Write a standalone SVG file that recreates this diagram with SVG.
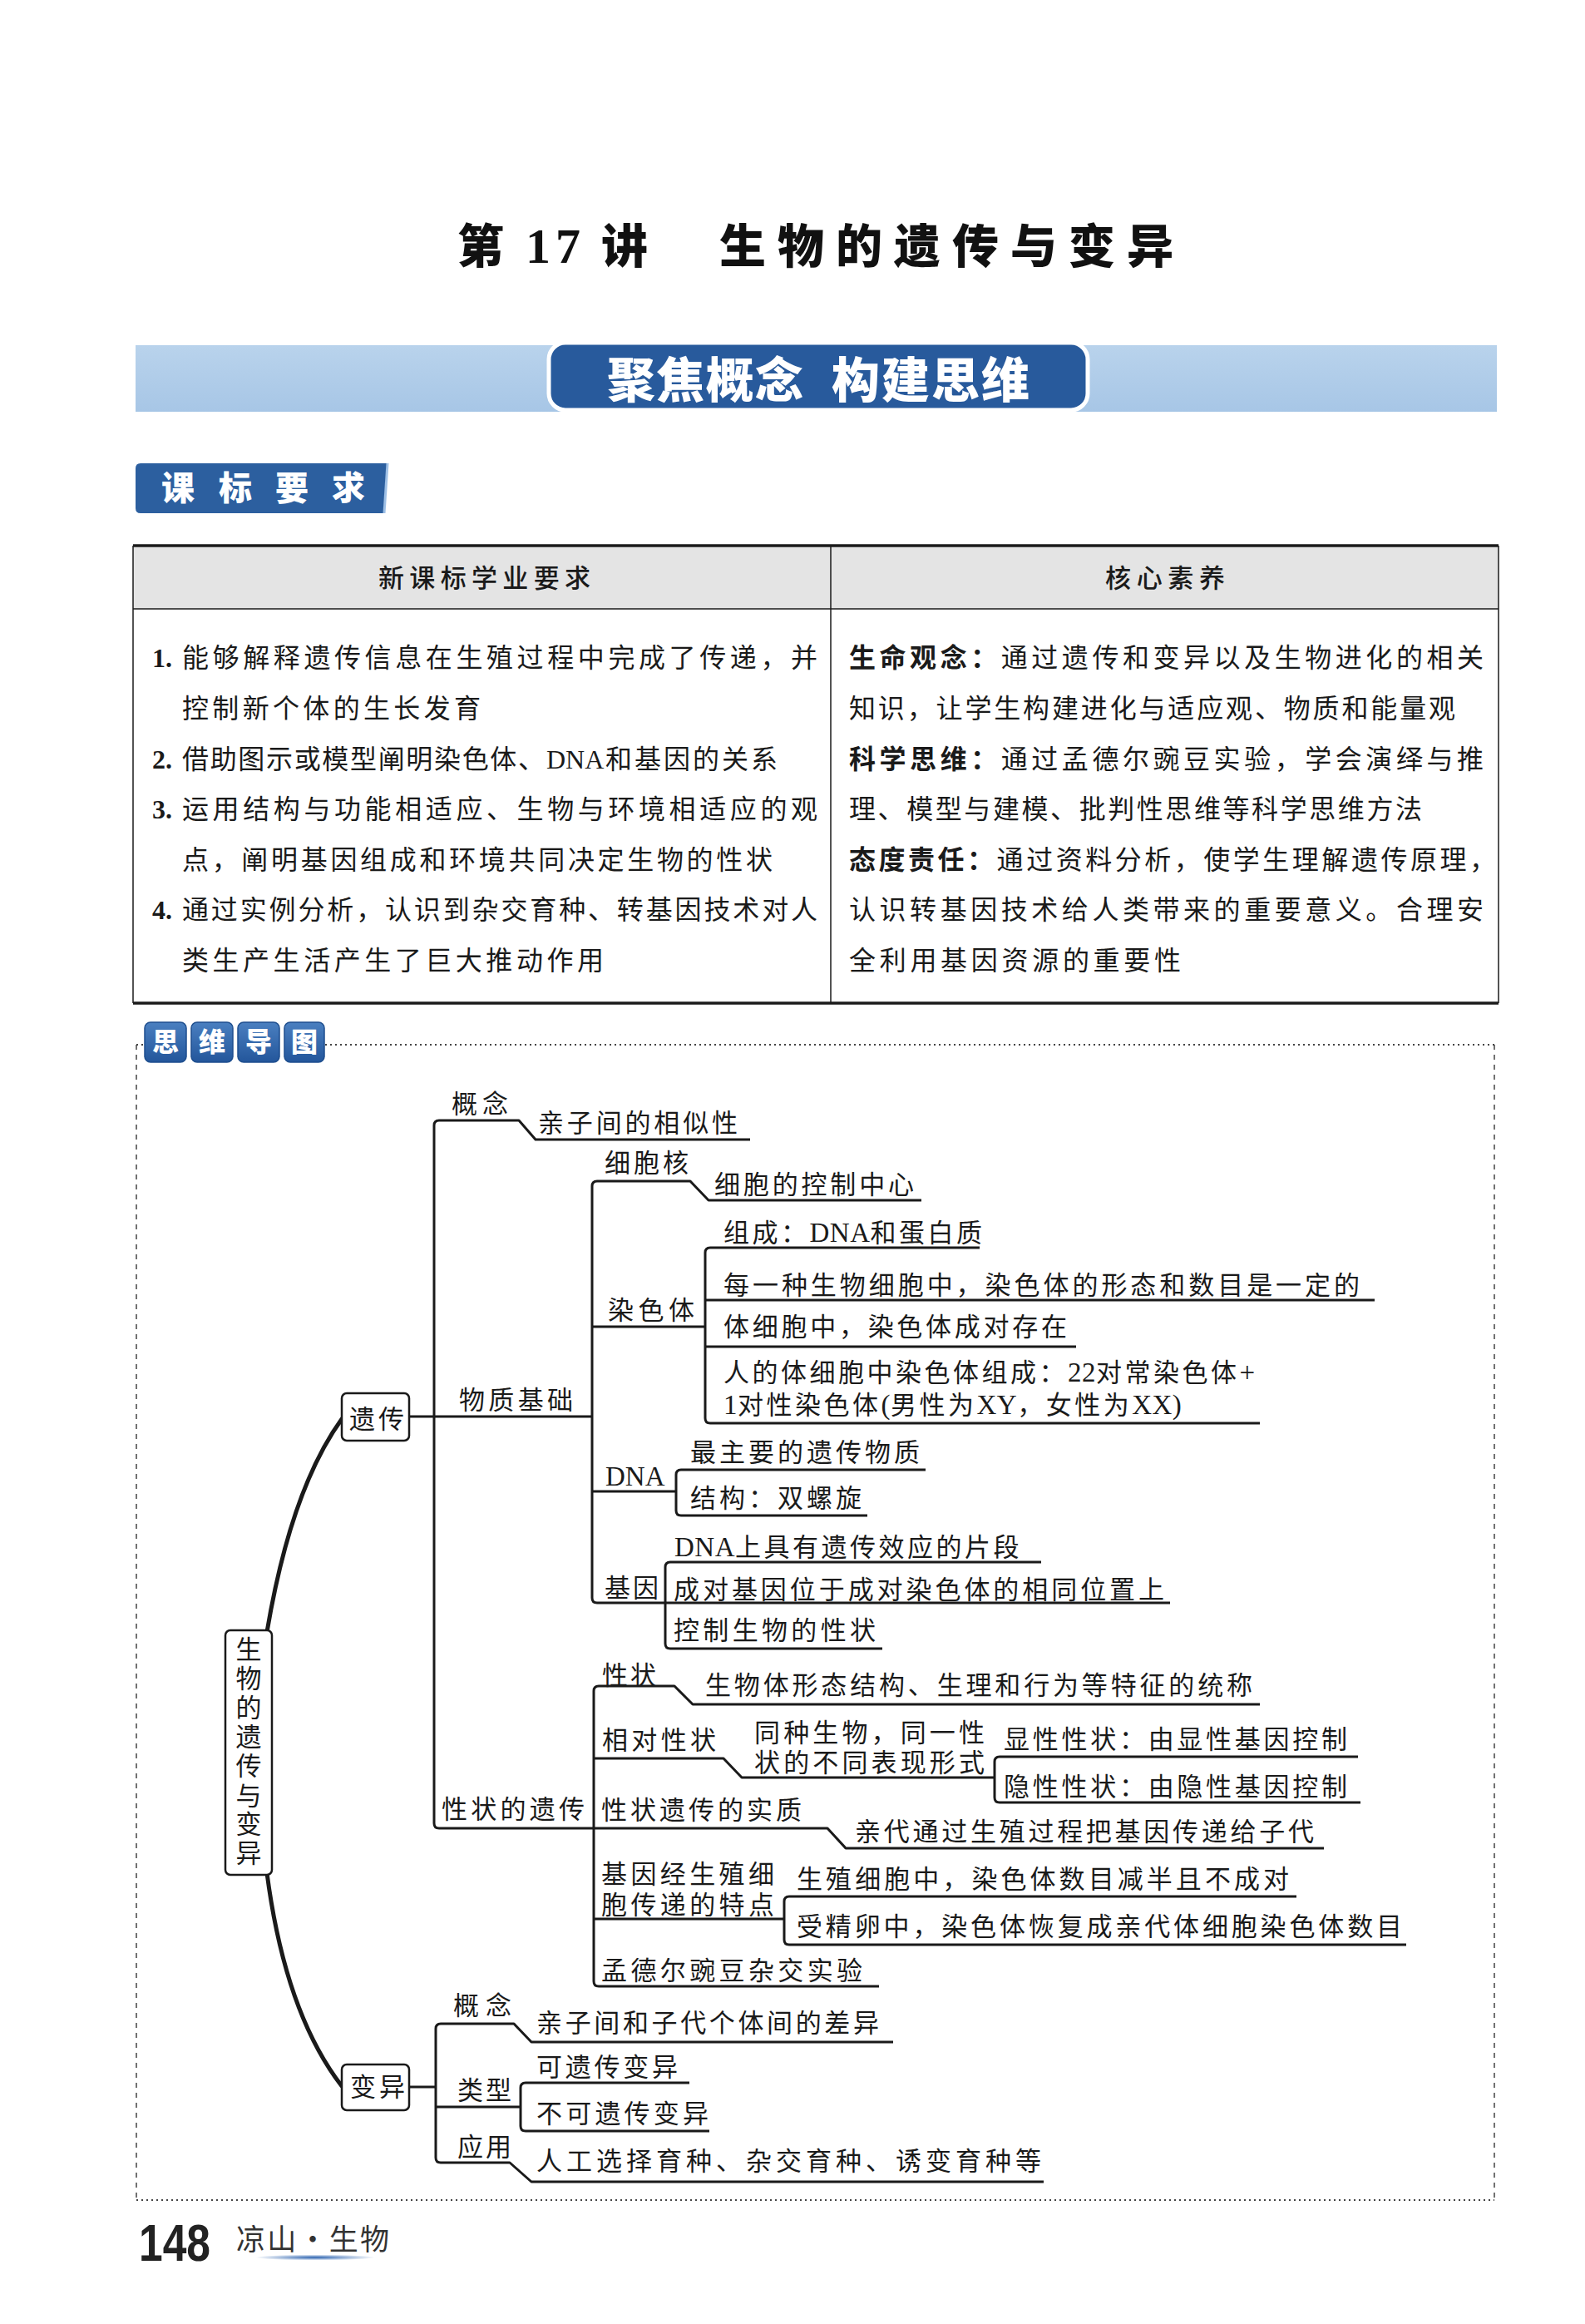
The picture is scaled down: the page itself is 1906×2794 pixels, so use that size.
<svg xmlns="http://www.w3.org/2000/svg" width="1906" height="2794" viewBox="0 0 1906 2794">
<defs>
<style>
.t{font-family:"Liberation Serif","Noto Sans CJK SC",serif;font-size:31px;fill:#1a1a1a}
.ls{letter-spacing:3.5px}
.lat{font-family:"Liberation Serif",serif;font-size:33px;letter-spacing:0.5px}
.tb{font-family:"Liberation Serif","Noto Sans CJK SC",serif;font-size:32px;fill:#1a1a1a}
.bd{font-family:"Noto Sans CJK SC",sans-serif;font-weight:900}
.hd{font-family:"Noto Sans CJK SC",sans-serif;font-size:31px;font-weight:500;fill:#1a1a1a}
.ln{fill:none;stroke:#1a1a1a;stroke-width:3;stroke-linejoin:round;stroke-linecap:butt}
.cv{fill:none;stroke:#1a1a1a;stroke-width:5;stroke-linecap:round}
.box{fill:#fff;stroke:#1a1a1a;stroke-width:2.5}
.wt{font-family:"Noto Sans CJK SC",sans-serif;font-weight:900;fill:#fff}
</style>
<linearGradient id="band" x1="0" y1="0" x2="0" y2="1">
<stop offset="0" stop-color="#b9d3ec"/><stop offset="1" stop-color="#a7c6e6"/>
</linearGradient>
<linearGradient id="badge" x1="0" y1="0" x2="0" y2="1">
<stop offset="0" stop-color="#4a7fc0"/><stop offset="1" stop-color="#23569b"/>
</linearGradient>
<radialGradient id="swoosh" cx="0.5" cy="0.5" r="0.5">
<stop offset="0" stop-color="#2c63b0"/><stop offset="1" stop-color="#2c63b0" stop-opacity="0"/>
</radialGradient>
</defs>
<rect width="1906" height="2794" fill="#fff"/>

<g id="title" fill="#111">
<text class="bd" x="550" y="316" font-size="56">第</text>
<text x="632" y="316" font-family="Liberation Serif" font-weight="700" font-size="60" letter-spacing="6">17</text>
<text class="bd" x="723" y="316" font-size="56">讲</text>
<text class="bd" x="865" y="316" font-size="56" letter-spacing="14">生物的遗传与变异</text>
</g>

<g id="banner">
<rect x="163" y="415" width="1637" height="80" fill="url(#band)"/>
<rect x="660" y="412" width="648" height="81" rx="20" fill="#285a9c" stroke="#fff" stroke-width="5"/>
<text class="wt" x="730" y="478" font-size="58" textLength="236">聚焦概念</text>
<text class="wt" x="1000" y="478" font-size="58" textLength="238">构建思维</text>
</g>

<g id="kebiao">
<path d="M169 557 H466 L462 617 H169 Q163 617 163 611 V563 Q163 557 169 557 Z" fill="#2c5f9f"/>
<path d="M466 557 L462 617" stroke="#9ec0e6" stroke-width="3"/>
<text class="wt" x="214" y="601" font-size="40" text-anchor="middle">课</text>
<text class="wt" x="283" y="601" font-size="40" text-anchor="middle">标</text>
<text class="wt" x="351" y="601" font-size="40" text-anchor="middle">要</text>
<text class="wt" x="419" y="601" font-size="40" text-anchor="middle">求</text>
</g>

<g id="table">
<rect x="160" y="657" width="1642" height="75" fill="#e4e4e4"/>
<line x1="160" y1="656" x2="1802" y2="656" stroke="#1a1a1a" stroke-width="3.5"/>
<line x1="160" y1="732" x2="1802" y2="732" stroke="#1a1a1a" stroke-width="1.5"/>
<line x1="160" y1="1206" x2="1802" y2="1206" stroke="#1a1a1a" stroke-width="3.5"/>
<line x1="160" y1="656" x2="160" y2="1206" stroke="#1a1a1a" stroke-width="1.5"/>
<line x1="1802" y1="656" x2="1802" y2="1206" stroke="#1a1a1a" stroke-width="1.5"/>
<line x1="999" y1="656" x2="999" y2="1206" stroke="#1a1a1a" stroke-width="1.5"/>
<text class="hd" x="455" y="706" textLength="255">新课标学业要求</text>
<text class="hd" x="1329" y="706" textLength="144">核心素养</text>

<text class="tb" x="183" y="802" font-weight="700">1.</text>
<text class="tb" x="219" y="802" textLength="764">能够解释遗传信息在生殖过程中完成了传递，并</text>
<text class="tb" x="219" y="863" textLength="359">控制新个体的生长发育</text>
<text class="tb" x="183" y="924" font-weight="700">2.</text>
<text class="tb" x="219" y="924" textLength="436">借助图示或模型阐明染色体、</text>
<text x="657" y="924" font-family="Liberation Serif" font-size="32" fill="#1a1a1a">DNA</text>
<text class="tb" x="728" y="924" textLength="207">和基因的关系</text>
<text class="tb" x="183" y="984" font-weight="700">3.</text>
<text class="tb" x="219" y="984" textLength="764">运用结构与功能相适应、生物与环境相适应的观</text>
<text class="tb" x="219" y="1045" textLength="710">点，阐明基因组成和环境共同决定生物的性状</text>
<text class="tb" x="183" y="1105" font-weight="700">4.</text>
<text class="tb" x="219" y="1105" textLength="764">通过实例分析，认识到杂交育种、转基因技术对人</text>
<text class="tb" x="219" y="1166" textLength="507">类生产生活产生了巨大推动作用</text>

<text class="tb" x="1021" y="802" textLength="763"><tspan font-family="Noto Sans CJK SC" font-weight="700">生命观念：</tspan>通过遗传和变异以及生物进化的相关</text>
<text class="tb" x="1021" y="863" textLength="729">知识，让学生构建进化与适应观、物质和能量观</text>
<text class="tb" x="1021" y="924" textLength="763"><tspan font-family="Noto Sans CJK SC" font-weight="700">科学思维：</tspan>通过孟德尔豌豆实验，学会演绎与推</text>
<text class="tb" x="1021" y="984" textLength="689">理、模型与建模、批判性思维等科学思维方法</text>
<text class="tb" x="1021" y="1045" textLength="778"><tspan font-family="Noto Sans CJK SC" font-weight="700">态度责任：</tspan>通过资料分析，使学生理解遗传原理，</text>
<text class="tb" x="1021" y="1105" textLength="763">认识转基因技术给人类带来的重要意义。合理安</text>
<text class="tb" x="1021" y="1166" textLength="399">全利用基因资源的重要性</text>
</g>

<g id="mindmap-frame">
<line x1="391" y1="1256" x2="1797" y2="1256" stroke="#444" stroke-width="2" stroke-dasharray="2 4"/>
<line x1="164" y1="2645" x2="1797" y2="2645" stroke="#444" stroke-width="2" stroke-dasharray="2 4"/>
<line x1="164" y1="1256" x2="164" y2="2645" stroke="#444" stroke-width="1.5" stroke-dasharray="6 6"/>
<line x1="1797" y1="1256" x2="1797" y2="2645" stroke="#444" stroke-width="1.5" stroke-dasharray="6 6"/>
<line x1="164" y1="1256" x2="174" y2="1256" stroke="#444" stroke-width="2" stroke-dasharray="2 4"/>
</g>

<g id="siwei-badge">
<rect x="174" y="1229" width="50" height="48" rx="7" fill="url(#badge)" stroke="#1e4e8e" stroke-width="1.5"/>
<rect x="230" y="1229" width="50" height="48" rx="7" fill="url(#badge)" stroke="#1e4e8e" stroke-width="1.5"/>
<rect x="286" y="1229" width="50" height="48" rx="7" fill="url(#badge)" stroke="#1e4e8e" stroke-width="1.5"/>
<rect x="342" y="1229" width="48" height="48" rx="7" fill="url(#badge)" stroke="#1e4e8e" stroke-width="1.5"/>
<text class="wt" x="199" y="1264" font-size="32" text-anchor="middle">思</text>
<text class="wt" x="255" y="1264" font-size="32" text-anchor="middle">维</text>
<text class="wt" x="311" y="1264" font-size="32" text-anchor="middle">导</text>
<text class="wt" x="366" y="1264" font-size="32" text-anchor="middle">图</text>
</g>

<g id="connectors">
<path class="cv" d="M321 1962 Q350 1790 411 1706"/>
<path class="cv" d="M321 2252 Q343 2420 411 2508"/>
<path class="ln" d="M902 1370 H644 L624 1347 H528 Q522 1347 522 1353 V2192 Q522 2198 528 2198 H995 L1017 2222 H1592"/>
<path class="ln" d="M492 1703 H712"/>
<path class="ln" d="M1108 1443 H852 L830 1420 H718 Q712 1420 712 1426 V1921 Q712 1927 718 1927 H1407"/>
<path class="ln" d="M712 1595 H848"/>
<path class="ln" d="M1178 1500 H854 Q848 1500 848 1506 V1705 Q848 1711 854 1711 H1515"/>
<path class="ln" d="M848 1563 H1653"/>
<path class="ln" d="M848 1619 H1294"/>
<path class="ln" d="M712 1793 H813"/>
<path class="ln" d="M1113 1767 H819 Q813 1767 813 1773 V1816 Q813 1822 819 1822 H1043"/>
<path class="ln" d="M1252 1878 H806 Q800 1878 800 1884 V1976 Q800 1982 806 1982 H1061"/>
<path class="ln" d="M1515 2049 H833 L811 2027 H720 Q714 2027 714 2033 V2382 Q714 2388 720 2388 H1057"/>
<path class="ln" d="M714 2114 H870 L892 2137 H1196"/>
<path class="ln" d="M1633 2112 H1202 Q1196 2112 1196 2118 V2161 Q1196 2167 1202 2167 H1636"/>
<path class="ln" d="M714 2307 H943"/>
<path class="ln" d="M1559 2280 H949 Q943 2280 943 2286 V2332 Q943 2338 949 2338 H1691"/>
<path class="ln" d="M1074 2455 H639 L618 2433 H530 Q524 2433 524 2439 V2594 Q524 2600 530 2600 H613 L639 2623 H1255"/>
<path class="ln" d="M492 2509 H524"/>
<path class="ln" d="M524 2533 H626"/>
<path class="ln" d="M829 2504 H632 Q626 2504 626 2510 V2556 Q626 2562 632 2562 H853"/>
</g>

<g id="root">
<rect class="box" x="271" y="1960" width="56" height="294" rx="6"/>
<text class="t" x="299" y="1994" text-anchor="middle">生</text>
<text class="t" x="299" y="2029" text-anchor="middle">物</text>
<text class="t" x="299" y="2064" text-anchor="middle">的</text>
<text class="t" x="299" y="2099" text-anchor="middle">遗</text>
<text class="t" x="299" y="2134" text-anchor="middle">传</text>
<text class="t" x="299" y="2170" text-anchor="middle">与</text>
<text class="t" x="299" y="2204" text-anchor="middle">变</text>
<text class="t" x="299" y="2239" text-anchor="middle">异</text>
</g>

<g id="yichuan">
<rect class="box" x="411" y="1675" width="81" height="57" rx="6"/>
<text class="t" x="420" y="1717" textLength="66">遗传</text>
</g>
<g id="bianyi">
<rect class="box" x="411" y="2482" width="81" height="55" rx="6"/>
<text class="t" x="421" y="2520" textLength="66">变异</text>
</g>

<g id="yc-gainian"><text class="t" x="543" y="1338" textLength="68">概念</text></g>
<g id="yc-gainian-def"><text class="t" x="647" y="1361" textLength="240">亲子间的相似性</text></g>
<g id="wuzhi"><text class="t" x="552" y="1694" textLength="137">物质基础</text></g>
<g id="xibaohe"><text class="t" x="727" y="1409" textLength="101">细胞核</text></g>
<g id="xibaohe-def"><text class="t" x="859" y="1435" textLength="240">细胞的控制中心</text></g>
<g id="ranseti"><text class="t" x="731" y="1586" textLength="104">染色体</text></g>
<g id="rst-1"><text class="t ls" x="870" y="1493">组成：<tspan class="lat">DNA</tspan>和蛋白质</text></g>
<g id="rst-2"><text class="t" x="870" y="1556" textLength="765">每一种生物细胞中，染色体的形态和数目是一定的</text></g>
<g id="rst-3"><text class="t" x="870" y="1606" textLength="413">体细胞中，染色体成对存在</text></g>
<g id="rst-4"><text class="t ls" x="870" y="1661">人的体细胞中染色体组成：<tspan class="lat">22</tspan>对常染色体<tspan class="lat">+</tspan></text>
<text class="t ls" x="870" y="1700"><tspan class="lat">1</tspan>对性染色体<tspan class="lat">(</tspan>男性为<tspan class="lat">XY</tspan>，女性为<tspan class="lat">XX)</tspan></text></g>
<g id="dna"><text class="t" x="728" y="1786" style="font-size:33px">DNA</text></g>
<g id="dna-1"><text class="t" x="830" y="1757" textLength="276">最主要的遗传物质</text></g>
<g id="dna-2"><text class="t" x="830" y="1812" textLength="206">结构：双螺旋</text></g>
<g id="jiyin"><text class="t" x="727" y="1920" textLength="65">基因</text></g>
<g id="jy-1"><text class="t ls" x="811" y="1871"><tspan class="lat">DNA</tspan>上具有遗传效应的片段</text></g>
<g id="jy-2"><text class="t" x="810" y="1922" textLength="590">成对基因位于成对染色体的相同位置上</text></g>
<g id="jy-3"><text class="t" x="810" y="1971" textLength="243">控制生物的性状</text></g>
<g id="xzdyc"><text class="t" x="531" y="2186" textLength="172">性状的遗传</text></g>
<g id="xingzhuang"><text class="t" x="724" y="2025" textLength="65">性状</text></g>
<g id="xz-def"><text class="t" x="848" y="2037" textLength="658">生物体形态结构、生理和行为等特征的统称</text></g>
<g id="xdxz"><text class="t" x="724" y="2103" textLength="137">相对性状</text></g>
<g id="xdxz-def"><text class="t" x="907" y="2094" textLength="277">同种生物，同一性</text>
<text class="t" x="907" y="2130" textLength="277">状的不同表现形式</text></g>
<g id="xianxing"><text class="t" x="1207" y="2102" textLength="413">显性性状：由显性基因控制</text></g>
<g id="yinxing"><text class="t" x="1207" y="2159" textLength="413">隐性性状：由隐性基因控制</text></g>
<g id="shizhi"><text class="t" x="723" y="2187" textLength="241">性状遗传的实质</text></g>
<g id="shizhi-def"><text class="t" x="1028" y="2213" textLength="552">亲代通过生殖过程把基因传递给子代</text></g>
<g id="tedian"><text class="t" x="723" y="2264" textLength="208">基因经生殖细</text>
<text class="t" x="723" y="2301" textLength="208">胞传递的特点</text></g>
<g id="td-1"><text class="t" x="958" y="2270" textLength="592">生殖细胞中，染色体数目减半且不成对</text></g>
<g id="td-2"><text class="t" x="958" y="2327" textLength="728">受精卵中，染色体恢复成亲代体细胞染色体数目</text></g>
<g id="mendel"><text class="t" x="723" y="2380" textLength="314">孟德尔豌豆杂交实验</text></g>

<g id="by-gainian"><text class="t" x="545" y="2422" textLength="70">概念</text></g>
<g id="by-gainian-def"><text class="t" x="645" y="2443" textLength="412">亲子间和子代个体间的差异</text></g>
<g id="leixing"><text class="t" x="550" y="2524" textLength="65">类型</text></g>
<g id="kyc"><text class="t" x="645" y="2496" textLength="170">可遗传变异</text></g>
<g id="bkyc"><text class="t" x="645" y="2552" textLength="207">不可遗传变异</text></g>
<g id="yingyong"><text class="t" x="550" y="2592" textLength="65">应用</text></g>
<g id="yy-def"><text class="t" x="645" y="2609" textLength="607">人工选择育种、杂交育种、诱变育种等</text></g>

<g id="footer">
<text x="167" y="2718" font-family="Liberation Sans" font-weight="700" font-size="63" textLength="86" lengthAdjust="spacingAndGlyphs" fill="#222">148</text>
<ellipse cx="379" cy="2714" rx="72" ry="3.5" fill="url(#swoosh)"/>
<text x="284" y="2705" font-family="Noto Sans CJK SC" font-size="35" textLength="184" fill="#333">凉山·生物</text>
</g>
</svg>
